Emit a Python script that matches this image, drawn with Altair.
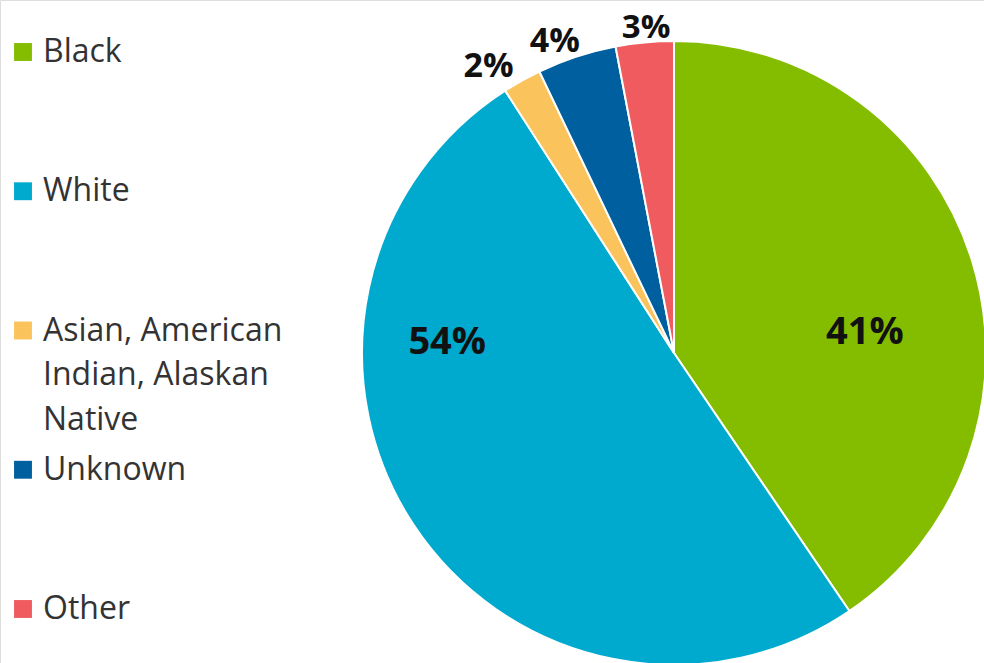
import altair as alt
import pandas as pd

# ---- data ----
categories = ["Black", "White", "Asian, American Indian, Alaskan Native", "Unknown", "Other"]
legend_labels = ["Black", "White", "Asian, American\nIndian, Alaskan\nNative", "Unknown", "Other"]
shares = [40.5, 50.4, 2.0, 4.1, 3.0]
pct_labels = ["41%", "54%", "2%", "4%", "3%"]
colors = ["#84bd00", "#00a9ce", "#fbc35b", "#005f9e", "#ef5b5f"]

# ---- layout (styling only) ----
CX, CY, R = 674, 353, 312
label_shift_deg = [11, 36, -3.8, -2.8, 0.5]   # angular nudge of each label from its slice middle
label_radius = [192, 227, 341, 333, 326]
label_size = [38, 38, 34, 34, 33]

df = pd.DataFrame({"category": categories, "share": shares, "order": range(len(categories))})

cum = 0.0
mids = []
for s, sh in zip(shares, label_shift_deg):
    mids.append(cum + s / 2 + sh / 3.6)
    cum += s
lab = pd.DataFrame({"label": pct_labels, "pos": mids, "r": label_radius, "size": label_size})

leg = pd.DataFrame({"category": categories, "text": legend_labels, "row": range(len(categories))})

color_scale = alt.Scale(domain=categories, range=colors)
theta_scale = alt.Scale(domain=[0, 100], range=[0, 6.283185307])

pie = alt.Chart(df).mark_arc(outerRadius=R, stroke="white", strokeWidth=2).encode(
    theta=alt.Theta("share:Q", stack=True, scale=theta_scale),
    color=alt.Color("category:N", scale=color_scale, legend=None),
    order=alt.Order("order:Q"),
    x=alt.value(CX),
    y=alt.value(CY),
)

labels = alt.Chart(lab).mark_text(
    font="Open Sans", fontWeight="bold", color="#111111", align="center", baseline="middle"
).encode(
    theta=alt.Theta("pos:Q", stack=None, scale=theta_scale),
    radius=alt.Radius("r:Q", scale=None),
    text="label:N",
    size=alt.Size("size:Q", scale=None, legend=None),
    x=alt.value(CX),
    y=alt.value(CY),
)

yscale = alt.Scale(domain=[0, 4], range=[52, 609])

leg_sym = alt.Chart(leg).mark_square(size=320, opacity=1).encode(
    x=alt.value(23),
    y=alt.Y("row:Q", scale=yscale, axis=None),
    color=alt.Color("category:N", scale=color_scale, legend=None),
)

leg_txt = alt.Chart(leg).mark_text(
    font="Open Sans", fontSize=32, color="#333333", align="left", baseline="alphabetic",
    lineBreak="\n", lineHeight=44.5, dy=10,
).encode(
    x=alt.value(43),
    y=alt.Y("row:Q", scale=yscale, axis=None),
    text="text:N",
)

chart = alt.layer(pie, labels, leg_sym, leg_txt).properties(
    width=984, height=663, autosize=alt.AutoSizeParams(type="none"), padding=0
).configure_view(stroke=None).configure(background="white")

chart.save("out.html", embed_options={"renderer": "svg", "actions": False})
